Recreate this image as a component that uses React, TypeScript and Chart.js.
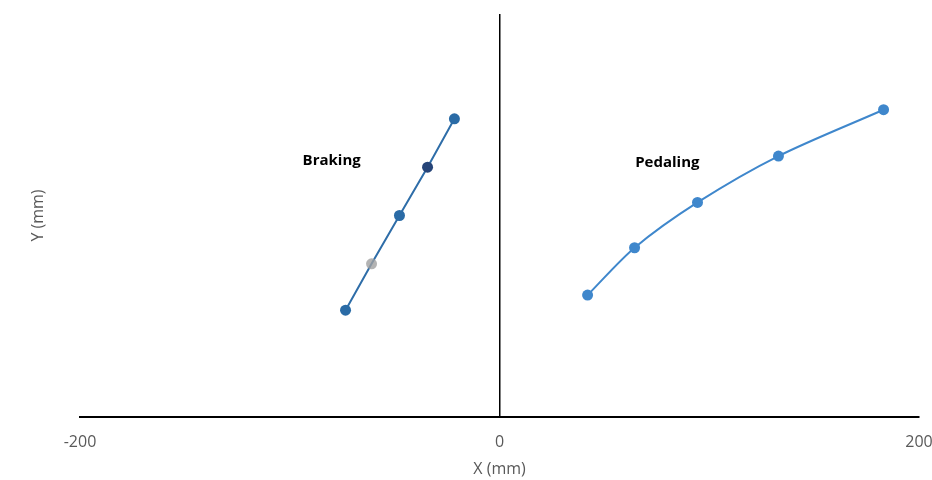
import React, { useEffect, useRef } from "react";
import { Chart, registerables } from "chart.js";

Chart.register(...registerables);

// Braking series (X mm, Y mm)
const brakingX = [-73.4, -61.0, -47.7, -34.3, -21.5];
const brakingY = [106, 152, 200, 248, 296];
const brakingPointColors = ["#2A6BA6", "rgba(160,160,160,0.8)", "#2A6BA6", "#264478", "#2A6BA6"];

// Pedaling series (X mm, Y mm)
const pedalingX = [42.0, 64.4, 94.4, 133.0, 183.1];
const pedalingY = [121, 168, 213, 259, 305];

// Axis ranges
const xMin = -200;
const xMax = 200;
const xStep = 200;
const yMin = 0;
const yMax = 400;

// Series labels (placed in data coordinates)
const labelTexts = ["Braking", "Pedaling"];
const labelX = [-80, 80];
const labelY = [254, 252];

const textGrey = "#595959";

export default function App() {
  const ref = useRef<HTMLCanvasElement | null>(null);

  useEffect(() => {
    if (!ref.current) return;
    Chart.defaults.font.family = "'Open Sans', sans-serif";

    const labelPlugin = {
      id: "seriesLabels",
      afterDatasetsDraw(chart: any) {
        const { ctx, scales } = chart;
        ctx.save();
        ctx.font = "bold 15px 'Open Sans', sans-serif";
        ctx.fillStyle = "#000000";
        ctx.textAlign = "center";
        ctx.textBaseline = "middle";
        labelTexts.forEach((t, i) => {
          ctx.fillText(t, scales.x.getPixelForValue(labelX[i]), scales.y.getPixelForValue(labelY[i]));
        });
        ctx.restore();
      },
    };

    const chart = new Chart(ref.current, {
      type: "scatter",
      data: {
        datasets: [
          {
            label: "Braking",
            data: brakingX.map((x, i) => ({ x, y: brakingY[i] })),
            showLine: true,
            borderColor: "#2E6DA8",
            borderWidth: 2,
            pointBackgroundColor: brakingPointColors,
            pointBorderColor: brakingPointColors,
            pointRadius: 5.5,
            pointBorderWidth: 0,
            tension: 0,
          },
          {
            label: "Pedaling",
            data: pedalingX.map((x, i) => ({ x, y: pedalingY[i] })),
            showLine: true,
            borderColor: "#3F87CC",
            borderWidth: 2,
            pointBackgroundColor: "#3F87CC",
            pointBorderColor: "#3F87CC",
            pointRadius: 5.5,
            pointBorderWidth: 0,
            tension: 0.3,
          },
        ],
      },
      options: {
        responsive: false,
        animation: false,
        layout: { padding: { top: 14, right: 13, bottom: 1, left: 0 } },
        plugins: {
          legend: { display: false },
          tooltip: { enabled: false },
        },
        scales: {
          x: {
            type: "linear",
            min: xMin,
            max: xMax,
            ticks: {
              stepSize: xStep,
              color: textGrey,
              font: { size: 16 },
              padding: 16,
              maxRotation: 0,
            },
            grid: {
              drawTicks: false,
              tickLength: 0,
              color: (c: any) => (c.tick && c.tick.value === 0 ? "#000000" : "rgba(0,0,0,0)"),
              lineWidth: 1.5,
            },
            border: { display: true, color: "#000000", width: 2 },
            title: {
              display: true,
              text: "X (mm)",
              color: textGrey,
              font: { size: 16 },
              padding: { top: 0, bottom: 0 },
            },
            afterFit: (scale: any) => {
              scale.paddingLeft = 0;
              scale.paddingRight = 0;
              scale.height = 62;
            },
          },
          y: {
            type: "linear",
            min: yMin,
            max: yMax,
            ticks: { display: false },
            grid: { display: false, drawTicks: false, tickLength: 0 },
            border: { display: false },
            title: {
              display: true,
              text: "Y (mm)",
              color: textGrey,
              font: { size: 16 },
              padding: { top: 28.4, bottom: 32.4 },
            },
          },
        },
      },
      plugins: [labelPlugin],
    });

    return () => chart.destroy();
  }, []);

  return (
    <div style={{ position: "fixed", left: 0, top: 0, width: 932, height: 480, overflow: "hidden", background: "#ffffff" }}>
      <canvas ref={ref} width={932} height={480} style={{ width: 932, height: 480, display: "block" }} />
    </div>
  );
}
